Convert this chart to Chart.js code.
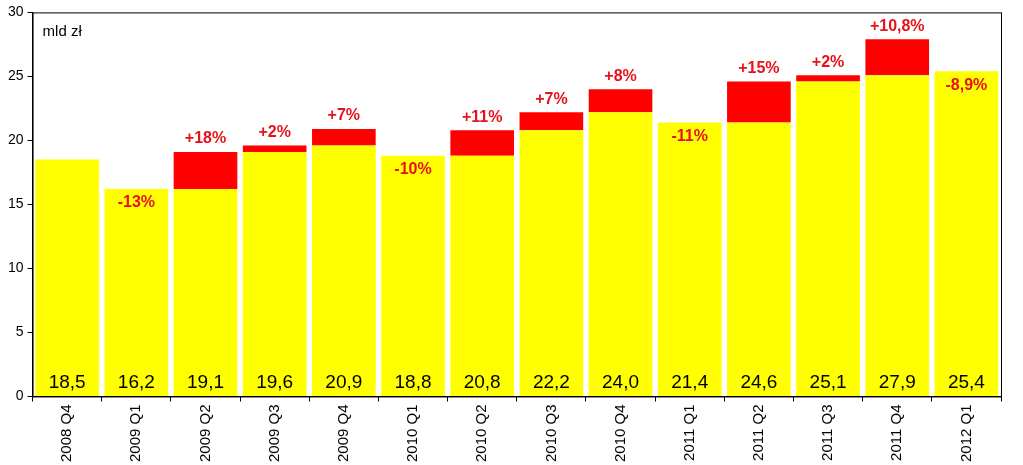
<!DOCTYPE html>
<html><head><meta charset="utf-8">
<script src="https://cdn.jsdelivr.net/npm/chart.js@4/dist/chart.umd.min.js"></script>
<style>html,body{margin:0;background:#fff}#w{width:1023px;height:465px}</style>
</head><body><div id="w"><canvas id="c"></canvas></div>
<script>
const categories=["2008 Q4","2009 Q1","2009 Q2","2009 Q3","2009 Q4","2010 Q1","2010 Q2","2010 Q3","2010 Q4","2011 Q1","2011 Q2","2011 Q3","2011 Q4","2012 Q1"];
const totals=[18.5,16.2,19.1,19.6,20.9,18.8,20.8,22.2,24.0,21.4,24.6,25.1,27.9,25.4];
const baseValues=[18.5,16.2,16.2,19.1,19.6,18.8,18.8,20.8,22.2,21.4,21.4,24.6,25.1,25.4];
const increaseValues=[0,0,2.9,0.5,1.3,0,2.0,1.4,1.8,0,3.2,0.5,2.8,0];
const changeLabels=["","-13%","+18%","+2%","+7%","-10%","+11%","+7%","+8%","-11%","+15%","+2%","+10,8%","-8,9%"];
const yTicks=[0,5,10,15,20,25,30];
const F='"Liberation Sans", Arial, sans-serif';
const labelPlugin={id:'lbl',afterDatasetsDraw(ch){
  const c=ch.ctx,x=ch.scales.x,y=ch.scales.y,a=ch.chartArea;
  c.save();c.textAlign='center';
  c.strokeStyle='#000';c.lineWidth=1;c.strokeRect(a.left+0.5,a.top+0.5,a.right-a.left,a.bottom-a.top);
  c.fillStyle='#000';c.font='15px '+F;c.textAlign='left';c.textBaseline='top';c.fillText('mld zł',a.left+10,a.top+12);
  c.textAlign='center';
  categories.forEach((cat,i)=>{
    const cx=x.getPixelForValue(i);
    c.fillStyle='#000';c.font='19px '+F;c.textBaseline='bottom';
    c.fillText(totals[i].toFixed(1).replace('.',','),cx,a.bottom-4);
    if(changeLabels[i]){
      c.fillStyle='#e8111a';c.font='bold 16px '+F;
      if(increaseValues[i]>0){c.textBaseline='bottom';c.fillText(changeLabels[i],cx,y.getPixelForValue(totals[i])-5);}
      else{c.textBaseline='top';c.fillText(changeLabels[i],cx,y.getPixelForValue(totals[i])+6);}
    }
  });
  c.restore();
}};
new Chart(document.getElementById('c'),{type:'bar',
data:{labels:categories,datasets:[
 {data:baseValues,backgroundColor:'#ffff00',borderWidth:0,categoryPercentage:0.92,barPercentage:1},
 {data:increaseValues,backgroundColor:'#ff0000',borderWidth:0,categoryPercentage:0.92,barPercentage:1}]},
options:{responsive:true,maintainAspectRatio:false,animation:false,
 layout:{padding:{top:12,right:22,left:4,bottom:0}},
 plugins:{legend:{display:false},tooltip:{enabled:false}},
 scales:{
  x:{stacked:true,
     grid:{display:true,drawOnChartArea:false,offset:true,tickLength:5,color:'#000'},border:{color:'#000'},
     ticks:{maxRotation:90,minRotation:90,color:'#000',font:{family:F,size:15}}},
  y:{stacked:true,min:0,max:30,afterBuildTicks(s){s.ticks=yTicks.map(v=>({value:v}));},
     grid:{drawOnChartArea:false,tickLength:5,color:'#000'},border:{color:'#000'},
     ticks:{color:'#000',font:{family:F,size:14},padding:4}}}},
 plugins:[labelPlugin]});
</script></body></html>
